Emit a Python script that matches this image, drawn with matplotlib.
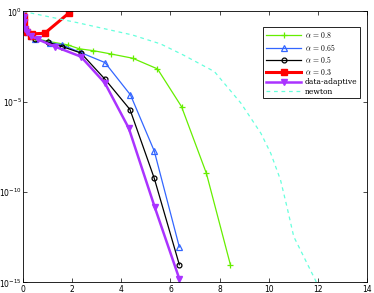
import numpy as np
import matplotlib
matplotlib.use('Agg')
import matplotlib.pyplot as plt

plt.rcParams['mathtext.fontset'] = 'cm'

# shared start of every run (time, log10 residual)
t_start = [0.0, 0.02, 0.04, 0.08, 0.15, 0.3]
r_start = [0.0, -0.3, -0.6, -0.95, -1.15, -1.35]

# alpha = 0.8
t_a08 = [0.5, 1.0, 1.81, 2.29, 2.85, 3.56, 4.46, 5.47, 6.45, 7.46, 8.44]
r_a08 = [-1.5, -1.65, -1.85, -2.07, -2.17, -2.35, -2.59, -3.18, -5.27, -8.95, -14.02]

# alpha = 0.65
t_a065 = [0.5, 1.08, 1.58, 2.35, 3.33, 4.37, 5.34, 6.36]
r_a065 = [-1.5, -1.73, -1.85, -2.28, -2.83, -4.62, -7.73, -13.04]

# alpha = 0.5
t_a05 = [0.47, 1.0, 1.6, 2.35, 3.33, 4.35, 5.34, 6.36]
r_a05 = [-1.54, -1.7, -1.95, -2.3, -3.75, -5.43, -9.24, -14.02]

# alpha = 0.3
t_a03 = [0.375, 0.875, 1.88]
r_a03 = [-1.24, -1.21, -0.07]

# data-adaptive
t_da = [0.6, 1.3, 2.35, 3.33, 4.30, 5.35, 6.36]
r_da = [-1.55, -1.95, -2.5, -3.97, -6.46, -10.8, -14.8]

# newton
t_newton = [0.0, 2.2, 4.44, 5.6, 6.52, 7.79, 8.87, 9.68, 10.08, 10.48, 10.75, 11.02, 11.96]
r_newton = [0.0, -0.62, -1.30, -1.8, -2.41, -3.33, -5.08, -6.74, -7.84, -9.32, -10.85, -12.46, -15.03]

fig = plt.figure(figsize=(3.74, 2.93), dpi=100)
ax = fig.add_axes([0.062, 0.036, 0.919, 0.925])

def series(t, r):
    return np.array(t_start + t), 10.0 ** np.array(r_start + r)

x, y = series(t_a08, r_a08)
ax.plot(x, y, '-', color='#66ee00', lw=0.9, marker='+', ms=4, mew=0.9, label=r'$\alpha\,=\,0.8$')
x, y = series(t_a065, r_a065)
ax.plot(x, y, '-', color='#3366ff', lw=0.9, marker='^', ms=4, mfc='none', mew=0.9, label=r'$\alpha\,=\,0.65$')
x, y = series(t_a05, r_a05)
ax.plot(x, y, '-', color='black', lw=0.9, marker='o', ms=3.5, mfc='none', mew=0.9, label=r'$\alpha\,=\,0.5$')
x, y = series(t_a03, r_a03)
ax.plot(x, y, '-', color='#ff0000', lw=2.2, marker='s', ms=4.5, label=r'$\alpha\,=\,0.3$')
x, y = series(t_da, r_da)
ax.plot(x, y, '-', color='#aa33ff', lw=1.8, marker='v', ms=5, label='data-adaptive')
ax.plot(t_newton, 10.0 ** np.array(r_newton), '--', color='#66ffdd', lw=0.9,
        dashes=(3, 3), label='newton')

ax.set_yscale('log')
ax.set_xlim(0, 14)
ax.set_ylim(1e-15, 1)
ax.set_xticks(range(0, 15, 2))
ax.set_yticks([1e-15, 1e-10, 1e-5, 1])
ax.minorticks_off()
ax.tick_params(direction='in', top=True, right=True, labelsize=5.5, length=3, width=0.5, pad=1.5)
ax.tick_params(axis='y', pad=1)
for s in ax.spines.values():
    s.set_linewidth(0.6)

leg = ax.legend(loc='upper right', bbox_to_anchor=(0.992, 0.955), handlelength=4.6,
                labelspacing=0.2, borderpad=0.35, handletextpad=0.5, fancybox=False,
                framealpha=1, edgecolor='black', prop={'family': 'DejaVu Serif', 'size': 5.5})
leg.get_frame().set_linewidth(0.6)

fig.savefig('out.png', dpi=100)
